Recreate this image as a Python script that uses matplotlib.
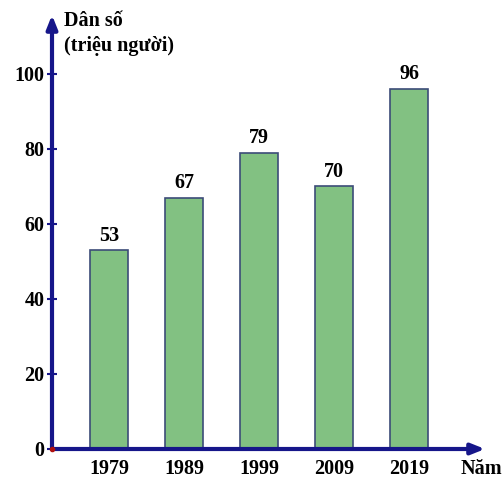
import matplotlib.pyplot as plt

years = ["1979", "1989", "1999", "2009", "2019"]
population = [53, 67, 79, 70, 96]
y_ticks = [0, 20, 40, 60, 80, 100]

axis_color = "#16168a"
bar_color = "#82c182"
edge_color = "#3c4c78"
fs = 14.5

plt.rcParams["font.family"] = ["Liberation Serif", "DejaVu Serif"]
plt.rcParams["font.weight"] = "bold"

W, H = 503, 478
fig = plt.figure(figsize=(W / 100, H / 100), dpi=100)
# axes box in pixel coordinates: left 52, right 485, top 15, bottom 449
ax = fig.add_axes([52 / W, (H - 449) / H, (485 - 52) / W, (449 - 15) / H])

x = list(range(len(years)))
ax.bar(x, population, width=0.5, color=bar_color, edgecolor=edge_color, linewidth=1.2, zorder=2)
for xi, v in zip(x, population):
    ax.text(xi, v + 1.2, str(v), ha="center", va="bottom", fontsize=fs, fontweight="bold")

ax.set_xlim(-0.76, 5.013)
ax.set_ylim(0, 115.7)

for s in ["top", "right", "left", "bottom"]:
    ax.spines[s].set_visible(False)

# axes drawn as arrows
arrow = dict(arrowstyle="-|>,head_length=0.8,head_width=0.32", color=axis_color, lw=3,
             shrinkA=0, shrinkB=0)
ax.annotate("", xy=(0, 1), xytext=(0, 0), xycoords="axes fraction", arrowprops=arrow, zorder=3)
ax.annotate("", xy=(1, 0), xytext=(0, 0), xycoords="axes fraction", arrowprops=arrow, zorder=3)
ax.plot([-0.76], [0], "o", color="#b01010", markersize=3, clip_on=False, zorder=4)

ax.set_yticks(y_ticks)
ax.set_yticklabels([str(t) for t in y_ticks], fontsize=fs, fontweight="bold")
ax.tick_params(axis="y", direction="inout", length=7, width=1.5, color=axis_color, pad=2)
ax.set_xticks(x)
ax.set_xticklabels(years, fontsize=fs, fontweight="bold")
ax.tick_params(axis="x", length=0, pad=7)

fig.text(64 / W, 1 - 21 / H, "Dân số", fontsize=fs, fontweight="bold", va="center", ha="left")
fig.text(64 / W, 1 - 46 / H, "(triệu người)", fontsize=fs, fontweight="bold", va="center", ha="left")
fig.text(461 / W, 1 - 469 / H, "Năm", fontsize=fs, fontweight="bold", va="center", ha="left")

fig.savefig("out.png", dpi=100)
